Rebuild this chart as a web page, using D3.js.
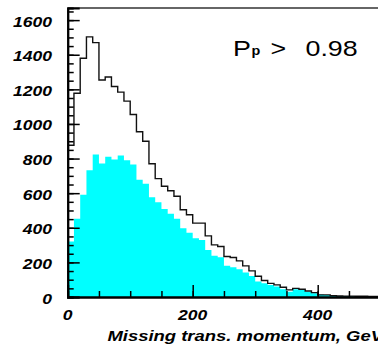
<!DOCTYPE html>
<html>
<head>
<meta charset="utf-8">
<script src="https://cdn.jsdelivr.net/npm/d3@7"></script>
<style>
  body { margin: 0; background: #fff; }
  svg { display: block; }
  .lbl { font-family: "Liberation Sans", Arial, sans-serif; font-weight: bold; font-style: italic; font-size: 15px; fill: #000; }
  .cut { font-family: "Liberation Sans", Arial, sans-serif; font-size: 22px; fill: #000; }
</style>
</head>
<body>
<svg width="378" height="345"></svg>
<script>
// histogram bins, 10 GeV wide, 0..500
const binEdges = d3.range(0, 501, 10)
const allEvents = [877, 1177, 1380, 1503, 1470, 1254, 1271, 1216, 1184, 1132,
  1055, 955, 900, 770, 684, 640, 614, 582, 504, 475,
  427, 427, 353, 301, 292, 234, 228, 209, 180, 151,
  120, 95, 79, 70, 56, 41, 50, 45, 35, 25,
  12, 12, 8, 6, 5, 5, 4, 4, 3, 3]
const selEvents = [321, 452, 591, 732, 823, 771, 810, 794, 817, 790,
  765, 678, 655, 576, 547, 508, 481, 452, 398, 371,
  340, 330, 272, 238, 230, 180, 172, 160, 141, 122,
  89, 79, 70, 60, 45, 31, 45, 41, 31, 21,
  15, 12, 8, 5, 5, 4, 4, 3, 3, 3]
const xMajor = [0, 200, 400]
const yMajor = [0, 200, 400, 600, 800, 1000, 1200, 1400, 1600]
const xTitle = "Missing trans. momentum, GeV"

const svg = d3.select("svg")
const padL = 67.7, padR = 380.2, padT = 8, padB = 297

const x = d3.scaleLinear().domain([0, 500]).range([padL, padR])
const y = d3.scaleLinear().domain([0, 1670]).range([padB, padT])

// step points: one per bin edge, last repeats final value
const steps = vals => binEdges.map((e, i) => ({ e, v: vals[Math.min(i, vals.length - 1)] }))

svg.append("path")
  .datum(steps(selEvents))
  .attr("fill", "#00ffff")
  .attr("d", d3.area().curve(d3.curveStepAfter)
    .x(d => x(d.e)).y0(y(0)).y1(d => y(d.v)))

svg.append("path")
  .datum(steps(allEvents))
  .attr("fill", "none")
  .attr("stroke", "#111")
  .attr("stroke-width", 1.4)
  .attr("d", d3.line().curve(d3.curveStepAfter)
    .x(d => x(d.e)).y(d => y(d.v)))

// frame top
svg.append("line")
  .attr("x1", padL).attr("x2", 378)
  .attr("y1", padT).attr("y2", padT)
  .attr("stroke", "#333").attr("stroke-width", 1.5)

// y axis, ticks pointing inward
svg.append("g")
  .attr("transform", `translate(${padL},0)`)
  .call(d3.axisRight(y).tickValues(d3.range(0, 1651, 50)).tickSize(6).tickFormat(""))
svg.append("g")
  .attr("transform", `translate(${padL},0)`)
  .call(d3.axisRight(y).tickValues(yMajor).tickSize(12).tickFormat(""))

// x axis, ticks pointing up
svg.append("g")
  .attr("transform", `translate(0,${padB})`)
  .call(d3.axisTop(x).tickValues(d3.range(0, 501, 50)).tickSize(6).tickFormat(""))
svg.append("g")
  .attr("transform", `translate(0,${padB})`)
  .call(d3.axisTop(x).tickValues(xMajor).tickSize(12).tickFormat(""))

svg.selectAll(".domain").attr("stroke", "#000").attr("stroke-width", 2)
svg.selectAll(".tick line").attr("stroke", "#000").attr("stroke-width", 1.5)

// tick labels (stretched a bit horizontally like the original)
svg.selectAll(".ylbl")
  .data(yMajor)
  .enter().append("text")
  .attr("class", "lbl")
  .attr("text-anchor", "end")
  .attr("transform", d => `translate(52,${y(d) + 6.5}) scale(1.17,1)`)
  .text(d => d)

svg.selectAll(".xlbl")
  .data(xMajor)
  .enter().append("text")
  .attr("class", "lbl")
  .attr("text-anchor", "middle")
  .attr("transform", d => `translate(${x(d)},319.5) scale(1.17,1)`)
  .text(d => d)

// axis title runs off the right edge, as in the original
svg.append("text")
  .attr("class", "lbl")
  .attr("text-anchor", "end")
  .attr("transform", `translate(383,340.7) scale(1.23,1)`)
  .text(xTitle)

// cut label  P_p > 0.98
svg.append("text").attr("class", "cut")
  .attr("transform", "translate(233,56) scale(1.22,1)").text("P")
svg.append("text").attr("class", "cut")
  .attr("transform", "translate(251.5,54.5) scale(1.2,1)")
  .style("font-size", "12px").style("font-weight", "bold").text("p")
svg.append("text").attr("class", "cut")
  .attr("transform", "translate(270.5,56) scale(1.22,1)").text(">")
svg.append("text").attr("class", "cut")
  .attr("transform", "translate(305.5,56) scale(1.22,1)").text("0.98")
</script>
</body>
</html>
